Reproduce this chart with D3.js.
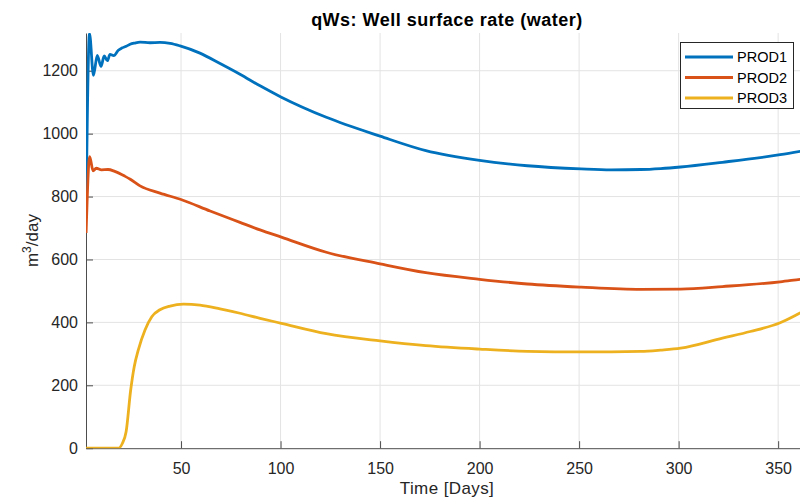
<!DOCTYPE html>
<html>
<head>
<meta charset="utf-8">
<script src="https://cdn.jsdelivr.net/npm/d3@7"></script>
<style>
  body { margin: 0; background: #fff; }
  svg { display: block; font-family: "Liberation Sans", Arial, sans-serif; }
</style>
</head>
<body>
<svg id="drawing_region"></svg>
<script>
// values: [day, m3/day]
const prod1 = [
    [2.3, 760], [4.0, 1318], [6.0, 1185], [7.9, 1249], [9.8, 1214], [11.4, 1247],
    [13.0, 1232], [14.3, 1252], [16.2, 1248], [18.5, 1265], [20.2, 1272], [22.5, 1278],
    [24.4, 1284], [26.7, 1288], [29.4, 1291], [34.4, 1289], [39.4, 1290], [44.5, 1287],
    [49.5, 1279], [59.5, 1256], [69.6, 1223], [79.6, 1189], [89.7, 1152], [100.4, 1116],
    [123, 1052], [150, 992], [173, 946], [200, 915], [224, 898], [251, 888],
    [266, 885], [281, 886], [291, 889], [301, 894], [322, 909], [351, 933], [365, 948]
];
const prod2 = [
    [2.3, 684], [4.1, 927], [5.8, 882], [7.4, 890], [10, 885], [13.3, 886],
    [16.7, 880], [21.7, 865], [24.5, 855], [29.4, 834], [39.4, 811], [50.3, 790],
    [64.6, 754], [79.6, 718], [89.7, 694], [100.4, 671], [123, 623], [150, 586],
    [173, 558], [200, 537], [224, 522], [251, 512], [281, 505], [301, 506],
    [322, 514], [351, 529], [361, 537], [365, 540]
];
const prod3 = [
    [2.3, 0], [18.5, 0], [20.5, 15], [22.4, 52], [24.7, 185], [26.5, 260],
    [28.5, 312], [31.9, 376], [35.3, 418], [39.4, 440], [44.5, 452], [51.2, 458],
    [59.5, 455], [69.6, 443], [79.6, 429], [89.7, 413], [100.4, 397], [123, 364],
    [150, 341], [173, 326], [200, 315], [224, 308], [251, 306], [281, 308],
    [291, 312], [301, 318], [322, 350], [336, 371], [351, 399], [361, 430], [365, 443]
];
const names = ["PROD1", "PROD2", "PROD3"];
const colors = ["#0072BD", "#D95319", "#EDB120"];
const xticks = [50, 100, 150, 200, 250, 300, 350];
const yticks = [0, 200, 400, 600, 800, 1000, 1200];

const config = {
    width: 800,
    height: 497,
    plot: {left: 86, right: 808, top: 33, bottom: 448.2}
};
const P = config.plot;

const svg = d3.select('#drawing_region')
    .attr('width', config.width)
    .attr('height', config.height);

const xscale = d3.scaleLinear().domain([2.25, 365]).range([P.left, P.right]);
const yscale = d3.scaleLinear().domain([0, 1320]).range([P.bottom, P.top]);

// grid
svg.append('g')
    .selectAll('line')
    .data(xticks)
    .join('line')
    .attr('x1', d => xscale(d)).attr('x2', d => xscale(d))
    .attr('y1', P.top).attr('y2', P.bottom)
    .attr('stroke', '#e3e3e3').attr('stroke-width', 1);

svg.append('g')
    .selectAll('line')
    .data(yticks.filter(d => d > 0))
    .join('line')
    .attr('x1', P.left).attr('x2', P.right)
    .attr('y1', d => yscale(d)).attr('y2', d => yscale(d))
    .attr('stroke', '#e3e3e3').attr('stroke-width', 1);

// axes (MATLAB style: ticks inside)
const xaxis = d3.axisBottom(xscale).tickValues(xticks).tickFormat(d3.format('d'))
    .tickSizeInner(-7).tickSizeOuter(0).tickPadding(14);
const yaxis = d3.axisLeft(yscale).tickValues(yticks).tickFormat(d3.format('d'))
    .tickSizeInner(-7).tickSizeOuter(0).tickPadding(8);

const xg = svg.append('g')
    .attr('transform', `translate(0, ${P.bottom})`)
    .call(xaxis);
const yg = svg.append('g')
    .attr('transform', `translate(${P.left}, 0)`)
    .call(yaxis);

[xg, yg].forEach(g => {
    g.select('.domain').attr('stroke', '#4d4d4d');
    g.selectAll('.tick line').attr('stroke', '#4d4d4d');
    g.selectAll('.tick text')
        .attr('fill', '#262626')
        .attr('font-size', '16px')
        .attr('font-family', '"Liberation Sans", Arial, sans-serif');
});

// lines
svg.append('clipPath')
    .attr('id', 'plotclip')
    .append('rect')
    .attr('x', P.left).attr('y', P.top)
    .attr('width', P.right - P.left).attr('height', P.bottom - P.top);

const line = d3.line()
    .x(d => xscale(d[0]))
    .y(d => yscale(d[1]))
    .curve(d3.curveMonotoneX);

const series = [prod1, prod2, prod3];
svg.append('g')
    .attr('clip-path', 'url(#plotclip)')
    .selectAll('path')
    .data(series)
    .join('path')
    .attr('d', d => line(d))
    .attr('fill', 'none')
    .attr('stroke', (d, i) => colors[i])
    .attr('stroke-width', 2.8)
    .attr('stroke-linejoin', 'round');

// title and labels
svg.append('text')
    .attr('x', (P.left + P.right) / 2)
    .attr('y', 26)
    .attr('text-anchor', 'middle')
    .attr('font-size', '18px')
    .attr('font-weight', 'bold')
    .attr('letter-spacing', '0.5px')
    .attr('fill', '#000')
    .text('qWs: Well surface rate (water)');

svg.append('text')
    .attr('x', (P.left + P.right) / 2)
    .attr('y', 494)
    .attr('text-anchor', 'middle')
    .attr('font-size', '17px')
    .attr('letter-spacing', '0.4px')
    .attr('fill', '#262626')
    .text('Time [Days]');

const ylab = svg.append('text')
    .attr('transform', `translate(38, ${(P.top + P.bottom) / 2}) rotate(-90)`)
    .attr('text-anchor', 'middle')
    .attr('font-size', '17px')
    .attr('fill', '#262626');
ylab.append('tspan').text('m');
ylab.append('tspan').attr('dy', -7).attr('font-size', '12px').text('3');
ylab.append('tspan').attr('dy', 7).text('/day');

// legend
const legend = svg.append('g');
legend.append('rect')
    .attr('x', 680.5).attr('y', 42.5)
    .attr('width', 113).attr('height', 66)
    .attr('fill', '#fff')
    .attr('stroke', '#262626')
    .attr('stroke-width', 1);

const rows = legend.selectAll('g.row')
    .data(names)
    .join('g')
    .attr('class', 'row')
    .attr('transform', (d, i) => `translate(0, ${57 + i * 20.5})`);

rows.append('line')
    .attr('x1', 685).attr('x2', 733)
    .attr('y1', 0).attr('y2', 0)
    .attr('stroke', (d, i) => colors[i])
    .attr('stroke-width', 2.8);

rows.append('text')
    .attr('x', 737)
    .attr('y', 5)
    .attr('font-size', '14.5px')
    .attr('fill', '#000')
    .text(d => d);
</script>
</body>
</html>
